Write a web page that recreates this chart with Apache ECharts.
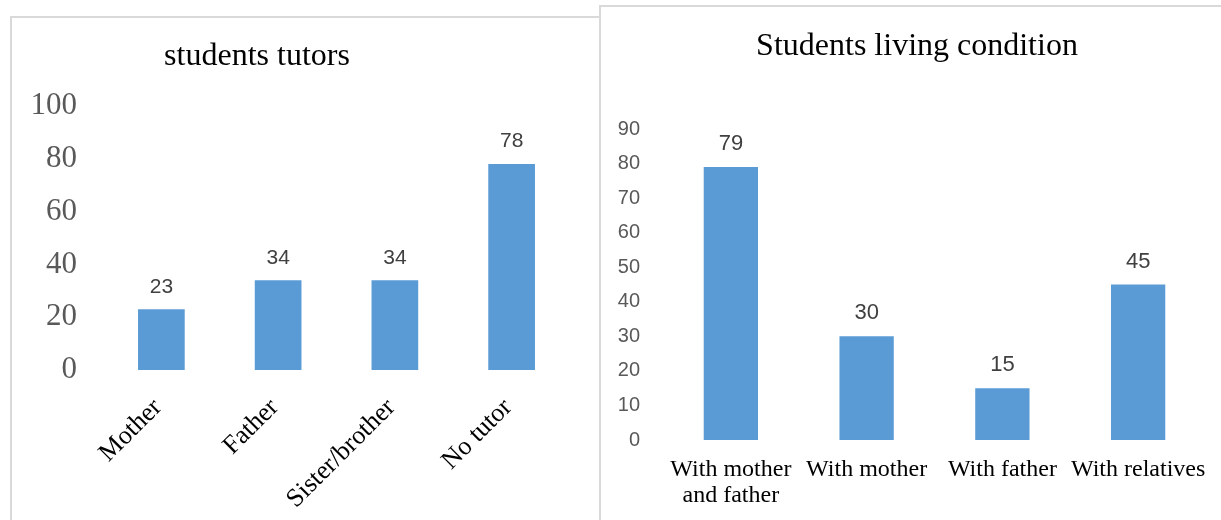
<!DOCTYPE html>
<html>
<head>
    <meta charset="utf-8" />
    <title>Students tutors and living condition</title>
    <script src="https://cdn.jsdelivr.net/npm/echarts@6/dist/echarts.min.js"></script>
    <style>
        html, body { margin: 0; padding: 0; background: #fff; }
        #main { width: 1221px; height: 520px; }
    </style>
</head>
<body>
    <div id="main"></div>
    <script type="text/javascript">

        // left chart: who tutors the students
        var tutorCats = ['Mother', 'Father', 'Sister/brother', 'No tutor'];
        var tutorValues = [23, 34, 34, 78];
        var tutorTicks = [0, 20, 40, 60, 80, 100];

        // right chart: living condition
        var livingCats = ['With mother\nand father', 'With mother', 'With father', 'With relatives'];
        var livingValues = [79, 30, 15, 45];
        var livingTicks = [0, 10, 20, 30, 40, 50, 60, 70, 80, 90];

        var barColor = '#5b9bd5';
        var serif = '"Liberation Serif", "DejaVu Serif", serif';
        var sans = '"Liberation Sans", "Open Sans", sans-serif';

        var chartDom = document.getElementById('main');
        var myChart = echarts.init(chartDom);
        var option;

        option = {
            backgroundColor: '#fff',
            animation: false,
            graphic: [
                {
                    type: 'rect',
                    shape: { x: 11, y: 17, width: 700, height: 600 },
                    style: { fill: '#fff', stroke: '#d9d9d9', lineWidth: 2 }
                },
                {
                    type: 'rect',
                    shape: { x: 600, y: 6, width: 700, height: 600 },
                    style: { fill: '#fff', stroke: '#d9d9d9', lineWidth: 2 }
                },
                {
                    type: 'text',
                    x: 257, y: 57,
                    style: {
                        text: 'students tutors', font: '32px ' + serif,
                        fill: '#000', textAlign: 'center', textVerticalAlign: 'middle'
                    }
                },
                {
                    type: 'text',
                    x: 917, y: 47,
                    style: {
                        text: 'Students living condition', font: '32px ' + serif,
                        fill: '#000', textAlign: 'center', textVerticalAlign: 'middle'
                    }
                }
            ],
            grid: [
                { left: 103, top: 106, width: 467, height: 264 },
                { left: 663, top: 129, width: 543, height: 311 }
            ],
            xAxis: [
                {
                    type: 'category', gridIndex: 0, data: tutorCats,
                    axisLine: { show: false }, axisTick: { show: false },
                    axisLabel: {
                        rotate: 45, margin: 30, interval: 0, padding: [0, 5, 0, 0],
                        fontFamily: serif, fontSize: 26, color: '#000'
                    }
                },
                {
                    type: 'category', gridIndex: 1, data: livingCats,
                    axisLine: { show: false }, axisTick: { show: false },
                    axisLabel: {
                        margin: 17, interval: 0, lineHeight: 26,
                        fontFamily: serif, fontSize: 24, color: '#000'
                    }
                }
            ],
            yAxis: [
                {
                    type: 'value', gridIndex: 0,
                    min: tutorTicks[0], max: tutorTicks[tutorTicks.length - 1], interval: 20,
                    splitLine: { show: false }, axisLine: { show: false }, axisTick: { show: false },
                    axisLabel: {
                        margin: 26, padding: [6, 0, 0, 0],
                        fontFamily: serif, fontSize: 31, color: '#595959'
                    }
                },
                {
                    type: 'value', gridIndex: 1,
                    min: livingTicks[0], max: livingTicks[livingTicks.length - 1], interval: 10,
                    splitLine: { show: false }, axisLine: { show: false }, axisTick: { show: false },
                    axisLabel: { margin: 23, fontFamily: sans, fontSize: 20, color: '#595959' }
                }
            ],
            series: [
                {
                    type: 'bar', xAxisIndex: 0, yAxisIndex: 0,
                    data: tutorValues, barWidth: '40%',
                    itemStyle: { color: barColor },
                    label: {
                        show: true, position: 'top', distance: 12,
                        fontFamily: sans, fontSize: 21, color: '#404040'
                    }
                },
                {
                    type: 'bar', xAxisIndex: 1, yAxisIndex: 1,
                    data: livingValues, barWidth: '40%',
                    itemStyle: { color: barColor },
                    label: {
                        show: true, position: 'top', distance: 12,
                        fontFamily: sans, fontSize: 22, color: '#404040'
                    }
                }
            ]
        };

        option && myChart.setOption(option);

    </script>
</body>
</html>
